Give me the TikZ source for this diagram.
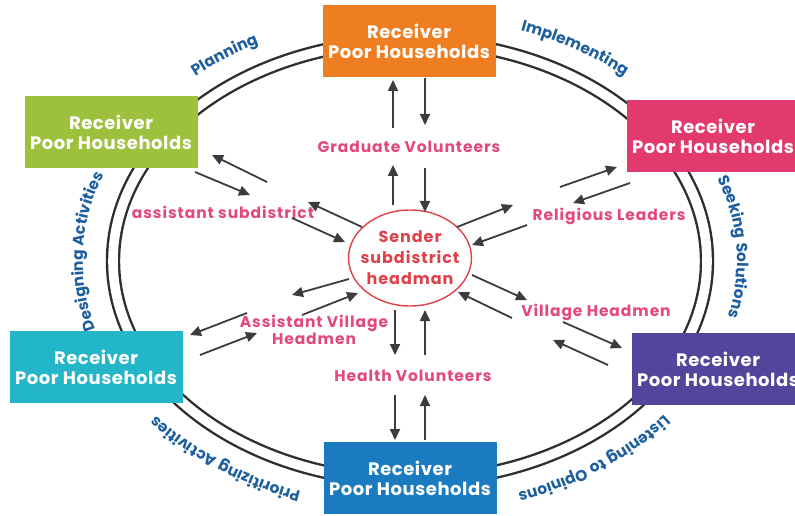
\documentclass[tikz,border=0pt]{standalone}
\usepackage{fontspec}
\setmainfont{Poppins}
\usepackage{xcolor}
\usetikzlibrary{shapes,arrows.meta,positioning,decorations.text}

\definecolor{toporange}{RGB}{239,126,34}
\definecolor{leafgreen}{RGB}{157,193,60}
\definecolor{rosered}{RGB}{226,58,110}
\definecolor{tealblue}{RGB}{34,182,200}
\definecolor{deeppurple}{RGB}{84,68,156}
\definecolor{oceanblue}{RGB}{27,123,192}
\definecolor{labelpink}{RGB}{226,72,122}
\definecolor{senderred}{RGB}{224,64,74}
\definecolor{phaseblue}{RGB}{29,95,158}
\definecolor{arrowgray}{RGB}{60,60,60}
\definecolor{ringgray}{RGB}{46,46,46}

\newcommand{\phasefont}{\fontsize{15.5}{15.5}\selectfont\bfseries\addfontfeature{LetterSpace=4}}

\begin{document}
\begin{tikzpicture}[x=1pt, y=1pt, thick]
    % Stili
    \tikzstyle{receiver}=[rectangle, minimum width=173, minimum height=72, inner sep=0pt, align=center, text=white, font=\fontsize{18}{20}\selectfont\bfseries\addfontfeature{LetterSpace=3}]
    \tikzstyle{channel}=[align=center, inner sep=2pt, text=labelpink, font=\fontsize{15.5}{17}\selectfont\bfseries\addfontfeature{LetterSpace=6}]
    \tikzstyle{sender}=[ellipse, draw=senderred, line width=1.4pt, minimum width=122, minimum height=96, inner xsep=-6pt, inner ysep=0pt, align=center, text=senderred, font=\fontsize{16}{21}\selectfont\bfseries\addfontfeature{LetterSpace=6}]
    \tikzstyle{arrow}=[-{Triangle[length=11pt,width=10pt]}, line width=1.8pt, draw=arrowgray]
    \tikzstyle{ring}=[draw=ringgray, line width=2.4pt, double=white, double distance=9.6pt]
    \tikzstyle{phase}=[decorate, decoration={text along path, text align=center, text color=phaseblue}]

    \useasboundingbox (0,0) rectangle (795,515);

    % Anello
    \coordinate (ctr) at (410,254);
    \draw[ring] (ctr) ellipse [x radius=297, y radius=220];

    % Fasi
    \path[phase, decoration={text={|\phasefont|Planning}}]
        (ctr) ++(156:327 and 245) arc[start angle=156, end angle=96, x radius=327, y radius=245];
    \path[phase, decoration={text={|\phasefont|Implementing}}]
        (ctr) ++(90:327 and 245) arc[start angle=90, end angle=26, x radius=327, y radius=245];
    \path[phase, decoration={text={|\phasefont|Seeking Solutions}}]
        (ctr) ++(40:327 and 245) arc[start angle=40, end angle=-34, x radius=327, y radius=245];
    \path[phase, decoration={text={|\phasefont|Listening to Opinions}}]
        (ctr) ++(-10:327 and 245) arc[start angle=-10, end angle=-94, x radius=327, y radius=245];
    \path[phase, decoration={text={|\phasefont|Prioritizing Activities}}]
        (ctr) ++(-86:327 and 245) arc[start angle=-86, end angle=-170, x radius=327, y radius=245];
    \path[phase, decoration={text={|\phasefont|Designing Activities}}]
        (ctr) ++(215:327 and 245) arc[start angle=215, end angle=141, x radius=327, y radius=245];

    % Riceventi
    \node (top) [receiver, fill=toporange] at (409,474) {Receiver\\Poor Households};
    \node (ul) [receiver, fill=leafgreen] at (111,383) {Receiver\\Poor Households};
    \node (ur) [receiver, fill=rosered] at (713,379) {Receiver\\Poor Households};
    \node (ll) [receiver, fill=tealblue] at (96,148) {Receiver\\Poor Households};
    \node (lr) [receiver, fill=deeppurple] at (718,146) {Receiver\\Poor Households};
    \node (bot) [receiver, fill=oceanblue] at (410,37) {Receiver\\Poor Households};

    % Mittente e canali
    \node (send) [sender] at (410,257) {Sender\\subdistrict\\headman};
    \node (grad) [channel] at (409,368) {Graduate Volunteers};
    \node (asst) [channel] at (223,303) {assistant subdistrict};
    \node (relig) [channel] at (609,299) {Religious Leaders};
    \node (avh) [channel] at (314,185) {Assistant Village\\Headmen};
    \node (vh) [channel] at (596,203) {Village Headmen};
    \node (health) [channel] at (413,139) {Health Volunteers};

    % Collegamenti in alto
    \draw[arrow] ([shift={(-16,19)}]grad.center) -- ([shift={(-16,-39)}]top.center);
    \draw[arrow] ([shift={(16,-37)}]top.center) -- ([shift={(16,22)}]grad.center);
    \draw[arrow] ([shift={(-17,53)}]send.center) -- ([shift={(-16,-18)}]grad.center);
    \draw[arrow] ([shift={(16,-21)}]grad.center) -- ([shift={(15,46)}]send.center);

    % Collegamenti in basso
    \draw[arrow] ([shift={(-15,-52)}]send.center) -- ([shift={(-18,21)}]health.center);
    \draw[arrow] ([shift={(12,21)}]health.center) -- ([shift={(15,-52)}]send.center);
    \draw[arrow] ([shift={(-18,-19)}]health.center) -- ([shift={(-15,38)}]bot.center);
    \draw[arrow] ([shift={(15,38)}]bot.center) -- ([shift={(12,-19)}]health.center);

    % Collegamenti in alto a sinistra
    \draw[arrow] ([shift={(44,30)}]asst.center) -- ([shift={(101,-23)}]ul.center);
    \draw[arrow] ([shift={(84,-40)}]ul.center) -- ([shift={(27,17)}]asst.center);
    \draw[arrow] ([shift={(-48,31)}]send.center) -- ([shift={(85,10)}]asst.center);
    \draw[arrow] ([shift={(69,-6)}]asst.center) -- ([shift={(-65,16)}]send.center);

    % Collegamenti in alto a destra
    \draw[arrow] ([shift={(-49,29)}]relig.center) -- ([shift={(-96,-31)}]ur.center);
    \draw[arrow] ([shift={(-83,-47)}]ur.center) -- ([shift={(-36,13)}]relig.center);
    \draw[arrow] ([shift={(47,31)}]send.center) -- ([shift={(-96,11)}]relig.center);
    \draw[arrow] ([shift={(-82,-9)}]relig.center) -- ([shift={(62,13)}]send.center);

    % Collegamenti in basso a sinistra
    \draw[arrow] ([shift={(-61,-21)}]send.center) -- ([shift={(-22,35)}]avh.center);
    \draw[arrow] ([shift={(-12,15)}]avh.center) -- ([shift={(-52,-35)}]send.center);
    \draw[arrow] ([shift={(-67,17)}]avh.center) -- ([shift={(94,32)}]ll.center);
    \draw[arrow] ([shift={(104,12)}]ll.center) -- ([shift={(-57,-3)}]avh.center);

    % Collegamenti in basso a destra
    \draw[arrow] ([shift={(62,-17)}]send.center) -- ([shift={(-69,12)}]vh.center);
    \draw[arrow] ([shift={(-84,-6)}]vh.center) -- ([shift={(48,-34)}]send.center);
    \draw[arrow] ([shift={(-33,-10)}]vh.center) -- ([shift={(-96,21)}]lr.center);
    \draw[arrow] ([shift={(-110,4)}]lr.center) -- ([shift={(-43,-28)}]vh.center);
\end{tikzpicture}
\end{document}
